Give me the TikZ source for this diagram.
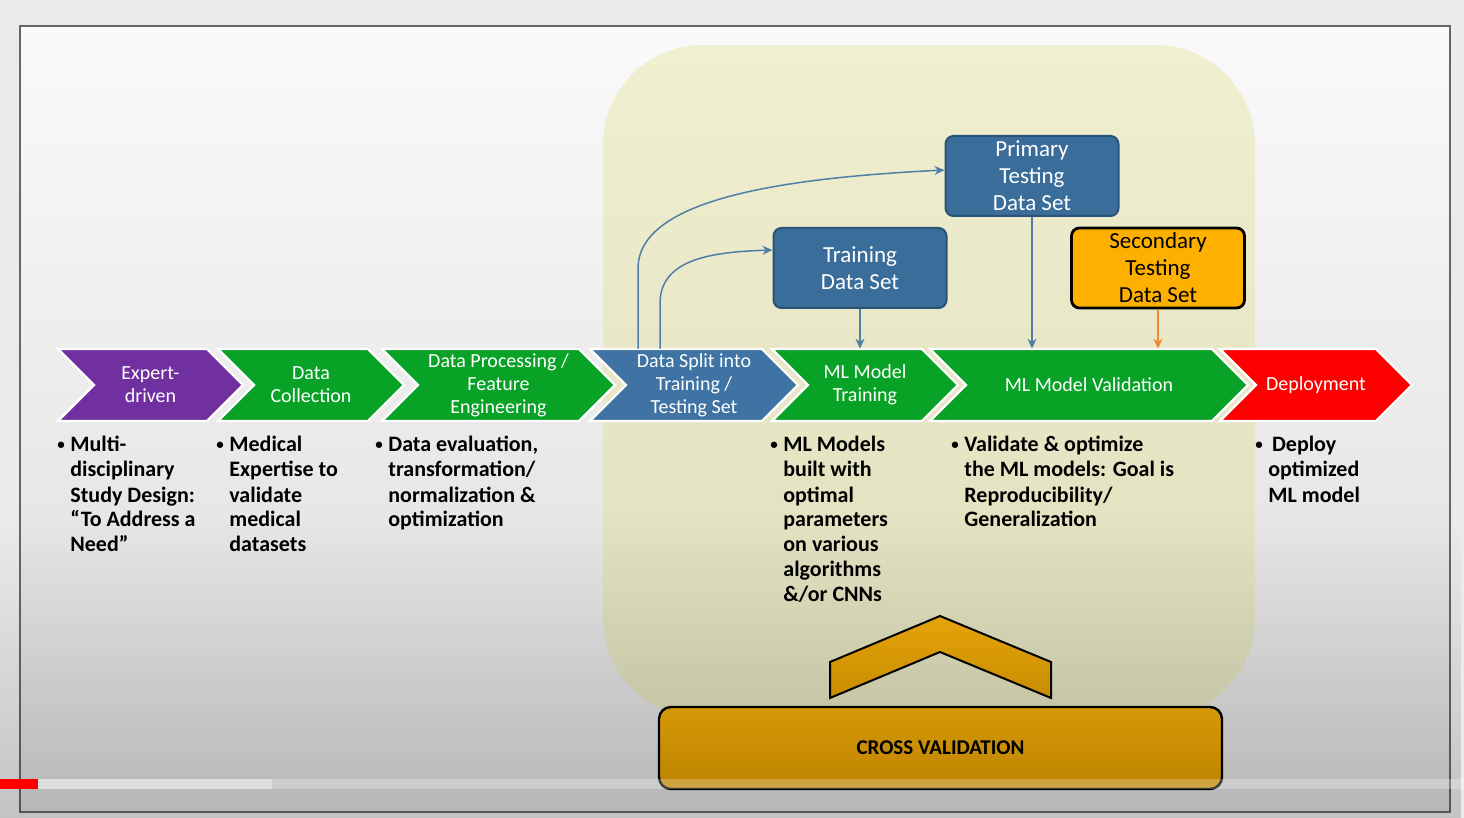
\documentclass[tikz,border=0pt]{standalone}
\usepackage{fontspec}
\setmainfont{Carlito}
\usetikzlibrary{arrows.meta,calc,fadings}
\definecolor{purp}{HTML}{7030A0}
\definecolor{grn}{HTML}{08A226}
\definecolor{blu}{HTML}{3E73A3}
\definecolor{boxblue}{HTML}{3A6D99}
\definecolor{boxedge}{HTML}{2B5378}
\definecolor{orng}{HTML}{FDB000}
\definecolor{goldtop}{HTML}{F2AE0C}
\definecolor{goldbot}{HTML}{E09C00}
\definecolor{regtop}{HTML}{F0EFD0}
\definecolor{regbot}{HTML}{DEDEBC}
\definecolor{arr}{HTML}{4F7EA8}
\definecolor{oarr}{HTML}{F08A30}
\tikzset{
 chevtext/.style={inner sep=0pt, minimum height=36pt, align=center, text=white, font=\fontsize{10}{11.5}\selectfont},
 dbox/.style={rounded corners=4pt, minimum width=86.5pt, minimum height=40pt, align=center, font=\fontsize{11.5}{13.5}\selectfont, inner sep=0pt},
 bluebox/.style={dbox, fill=boxblue, draw=boxedge, line width=1pt, text=white},
 orangebox/.style={dbox, fill=orng, draw=black, line width=1.4pt, text=black},
 bul/.style={inner sep=0pt, anchor=base west, font=\bfseries\fontsize{11}{12.5}\selectfont},
 conn/.style={draw=arr, line width=0.75pt, -{Stealth[length=5pt,width=4.5pt]}},
}
\newcommand\chev[6]{%
 \fill[#4, draw=white, line width=1.2pt] (#2,349) -- ({#3-36},349) -- (#3,385) -- ({#3-36},421) -- (#2,421) -- ({#2+36},385) -- cycle;
 \node[chevtext, text=#5] (#1) at ({(#2+#3)/2},385) {#6};}
\newcommand\blines[1]{\makebox[6.5pt][l]{\raisebox{1.2pt}{\fontsize{7.5}{8}\selectfont\textbullet}}\begin{tabular}[t]{@{}l@{}}#1\end{tabular}}
\begin{document}
\begin{tikzpicture}[x=0.5pt,y=-0.5pt]
\useasboundingbox (0,0) rectangle (1464,818);
% background and slide frame
\fill[black!8] (0,0) rectangle (1464,818);
\shade[top color=white!98!black, bottom color=black!14] (20,26) rectangle (1450,812);
\draw[black!60, line width=0.8pt] (20,26) rectangle (1450,812);
% pale region
\shade[top color=regtop, bottom color=regbot, rounded corners=50pt] (603,45) rectangle (1255,718);
% process chevrons
\chev{c1}{58}{243}{purp}{white}{Expert-\\driven}
\chev{c2}{218}{404}{grn}{white}{Data\\Collection}
\chev{c3}{382}{615}{grn}{white}{Data Processing /\\Feature\\Engineering}
\chev{c4}{590}{798}{blu}{white}{Data Split into\\Training /\\Testing Set}
\chev{c5}{772}{958}{grn}{white}{ML Model\\Training}
\chev{c6}{930}{1248}{grn}{white}{ML Model Validation}
\chev{c7}{1220}{1412}{red}{white}{Deployment}
% data set boxes
\node[bluebox] (prim) at (1032,176) {Primary\\Testing\\Data Set};
\node[bluebox] (train) at (860,268) {Training\\Data Set};
\node[orangebox] (sec) at (1158,268) {Secondary\\Testing\\Data Set};
% connectors
\draw[conn] ($(c4.north)+(-56,0)$) -- ++(0,-80) .. controls +(0,-70) and +(-160,8) .. ($(prim.west)+(0,-6)$);
\draw[conn] ($(c4.north)+(-34,0)$) -- ++(0,-45) .. controls +(0,-45) and +(-60,2) .. ($(train.west)+(0,-18)$);
\draw[conn] (train.south) -- (train.south |- c5.north);
\draw[conn] (prim.south) -- (prim.south |- c6.north);
\draw[conn, draw=oarr] (sec.south) -- (sec.south |- c6.north);
% bullet texts
\node[bul] (t1) at (57,452) {\blines{Multi-\\disciplinary\\Study Design:\\“To Address a\\Need”}};
\node[bul] (t2) at (216,452) {\blines{Medical\\Expertise to\\validate\\medical\\datasets}};
\node[bul] (t3) at (375,452) {\blines{Data evaluation,\\transformation/\\normalization \&\\optimization}};
\node[bul] (t4) at (770,452) {\blines{ML Models\\built with\\optimal\\parameters\\on various\\algorithms\\\&/or CNNs}};
\node[bul] (t5) at (951,452) {\blines{Validate \& optimize\\the ML models: Goal is\\Reproducibility/\\Generalization}};
\node[bul] (t6) at (1255,452) {\blines{\,Deploy\\optimized\\ML model}};
% cross validation
\shade[top color=goldtop, bottom color=goldbot, draw=black, line width=1pt] (830,698) -- (830,662) -- (940,616) -- (1051,662) -- (1051,698) -- (940,652) -- cycle;
\node[draw=black, line width=1.2pt, top color=goldtop!85!goldbot, bottom color=goldbot, rounded corners=6pt, minimum width=281.5pt, minimum height=41pt, inner sep=0pt, font=\bfseries\fontsize{10.5}{12}\selectfont] (cv) at (940.5,748) {CROSS VALIDATION};
% video player overlay and progress bar
\fill[black, opacity=0.17, path fading=north] (0,520) rectangle (1464,818);
\fill[white, opacity=0.25] (0,779) rectangle (1464,789);
\fill[white!87!black] (38,779) rectangle (272,789);
\fill[red] (0,779) rectangle (38,789);
\end{tikzpicture}
\end{document}
